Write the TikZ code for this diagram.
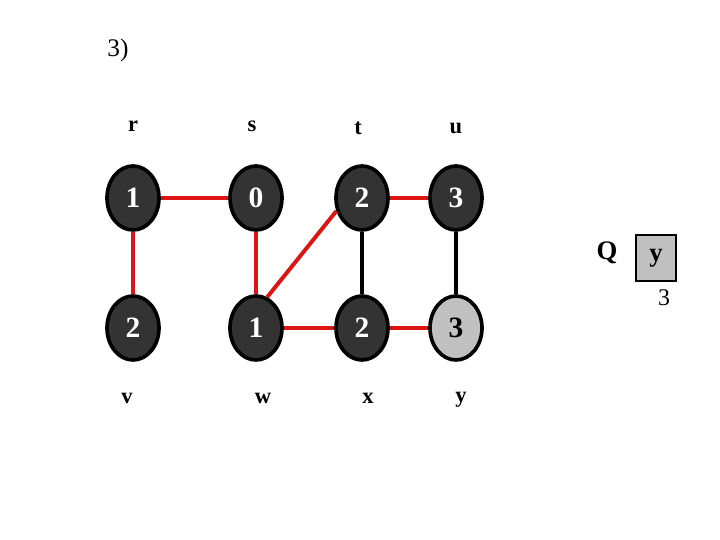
\documentclass[tikz,border=0pt]{standalone}
\usepackage{fontspec}
\setmainfont{Liberation Serif}
\usepackage{xcolor}
\usetikzlibrary{shapes, shapes.geometric, positioning}
\definecolor{vdark}{RGB}{51, 51, 51}
\definecolor{vlight}{RGB}{192, 192, 192}
\definecolor{bfsred}{RGB}{220, 20, 20}

\begin{document}
\begin{tikzpicture}[
	vtx/.style={ellipse, draw=black, line width=2.6pt, fill=vdark, text=white,
		minimum width=1.3cm, minimum height=1.6cm, inner sep=0pt,
		font=\fontsize{21}{23}\selectfont\bfseries},
	vtxq/.style={vtx, fill=vlight, text=black},
	lbl/.style={font=\fontsize{16}{18}\selectfont\bfseries},
	qlbl/.style={font=\fontsize{19}{21}\selectfont\bfseries},
	tree/.style={line width=2.8pt, bfsred},
	plain/.style={line width=2.4pt, black}]
	\useasboundingbox (0,0) rectangle (18,13.5);
	\node[font=\fontsize{18}{20}\selectfont] (step) at (2.95,12.25) {3)};
	% vertices
	\node[vtx] (r) at (3.325,8.55) {1};
	\node[vtx] (s) at (6.4,8.55) {0};
	\node[vtx] (t) at (9.05,8.55) {2};
	\node[vtx] (u) at (11.4,8.55) {3};
	\node[vtx] (v) at (3.325,5.3) {2};
	\node[vtx] (w) at (6.4,5.3) {1};
	\node[vtx] (x) at (9.05,5.3) {2};
	\node[vtxq] (y) at (11.4,5.3) {3};
	% names
	\node[lbl] (rname) at (3.325,10.35) {r};
	\node[lbl] (sname) at (6.3,10.35) {s};
	\node[lbl] (tname) at (8.95,10.3) {t};
	\node[lbl] (uname) at (11.4,10.28) {u};
	\node[lbl] (vname) at (3.175,3.55) {v};
	\node[lbl] (wname) at (6.575,3.55) {w};
	\node[lbl] (xname) at (9.2,3.55) {x};
	\node[lbl] (yname) at (11.525,3.5) {y};
	% edges
	\draw[tree] (r) -- (s);
	\draw[tree] (r) -- (v);
	\draw[tree] (s) -- (w);
	\draw[tree] (w.70) -- (t.207);
	\draw[tree] (t) -- (u);
	\draw[tree] (w) -- (x);
	\draw[tree] (x) -- (y);
	\draw[plain] (t) -- (x);
	\draw[plain] (u) -- (y);
	% queue
	\node[qlbl] (Q) at (15.175,7.175) {Q};
	\node[draw=black, line width=1pt, fill=vlight, minimum width=1cm, minimum height=1.15cm,
		inner sep=0pt, qlbl] (qy) at (16.4,7.05) {y};
	\node[font=\fontsize{17}{19}\selectfont] (qd) at (16.6,6.05) {3};
\end{tikzpicture}
\end{document}
